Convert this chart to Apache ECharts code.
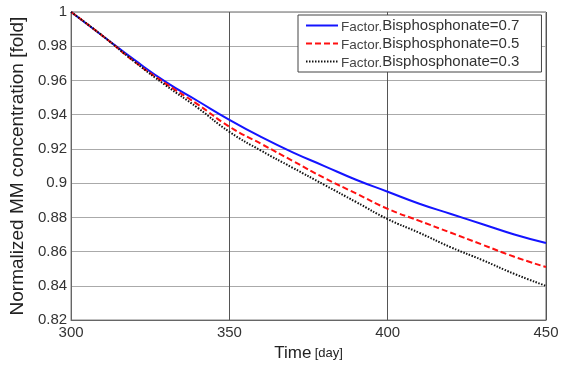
<!DOCTYPE html>
<html>
<head>
<meta charset="utf-8">
<script src="https://cdn.jsdelivr.net/npm/echarts@6/dist/echarts.min.js"></script>
<style>
  html, body { margin: 0; padding: 0; background: #fff; }
  #chart { width: 563px; height: 367px; }
</style>
</head>
<body>
<div id="chart"></div>
<script>
// values, every 10 days
const days = [300, 310, 320, 330, 340, 350, 360, 370, 380, 390, 400, 410, 420, 430, 440, 450];
const factor07 = [1, 0.986, 0.972, 0.959, 0.948, 0.937, 0.927, 0.918, 0.910, 0.902, 0.895, 0.888, 0.882, 0.876, 0.870, 0.865];
const factor05 = [1, 0.986, 0.971, 0.958, 0.946, 0.933, 0.923, 0.913, 0.903, 0.894, 0.885, 0.878, 0.871, 0.864, 0.857, 0.851];
const factor03 = [1, 0.986, 0.971, 0.957, 0.944, 0.930, 0.919, 0.909, 0.899, 0.889, 0.879, 0.871, 0.8625, 0.855, 0.847, 0.840];
const seriesNames = ['Factor.Bisphosphonate=0.7', 'Factor.Bisphosphonate=0.5', 'Factor.Bisphosphonate=0.3'];

const pairs = (ys) => days.map((d, i) => [d, ys[i]]);

const chart = echarts.init(document.getElementById('chart'));

chart.setOption({
  animation: false,
  textStyle: { fontFamily: 'Liberation Sans, Arial, sans-serif' },
  grid: {
    left: 70, right: 17, top: 12, bottom: 30,
    show: true, borderColor: '#666', borderWidth: 1
  },
  legend: {
    left: 298, top: 15,
    orient: 'vertical',
    padding: [3, 22, 2, 7],
    itemGap: 2,
    itemWidth: 32,
    itemHeight: 14,
    backgroundColor: '#fff',
    borderColor: '#444',
    borderWidth: 1,
    borderRadius: 0,
    data: seriesNames,
    itemStyle: { opacity: 0 },
    formatter: (name) => {
      const parts = name.split('.');
      return '{a|' + parts[0] + '.}{b|' + parts.slice(1).join('.') + '}';
    },
    textStyle: {
      color: '#333',
      padding: [0, 0, 0, -2],
      rich: {
        a: { fontSize: 13.5, color: '#444', padding: [3, 0, 0, 0] },
        b: { fontSize: 15, color: '#333' }
      }
    }
  },
  xAxis: {
    type: 'value',
    min: 300, max: 450, interval: 50,
    name: '{a|Time} {b|[day]}',
    nameLocation: 'middle',
    nameGap: 16,
    nameTextStyle: {
      rich: {
        a: { fontSize: 17, color: '#222' },
        b: { fontSize: 13, color: '#222' }
      }
    },
    axisLine: { lineStyle: { color: '#666' } },
    axisTick: { show: false },
    axisLabel: { color: '#333', fontSize: 15, margin: 5 },
    splitLine: { lineStyle: { color: '#555', width: 1 } }
  },
  yAxis: {
    type: 'value',
    min: 0.82, max: 1, interval: 0.02,
    name: 'Normalized MM concentration [fold]',
    nameLocation: 'middle',
    nameGap: 40,
    nameTextStyle: { fontSize: 19, color: '#222' },
    axisLine: { show: true, lineStyle: { color: '#666' } },
    axisTick: { show: false },
    axisLabel: { color: '#333', fontSize: 15, margin: 4 },
    splitLine: { lineStyle: { color: '#aaa', width: 1 } }
  },
  series: [
    {
      name: seriesNames[0], type: 'line', smooth: true, symbol: 'none',
      data: pairs(factor07),
      lineStyle: { color: '#1414ff', width: 2, type: 'solid' },
      itemStyle: { color: '#1414ff' }
    },
    {
      name: seriesNames[1], type: 'line', smooth: true, symbol: 'none',
      data: pairs(factor05),
      lineStyle: { color: '#ff1010', width: 2, type: [6, 3] },
      itemStyle: { color: '#ff1010' }
    },
    {
      name: seriesNames[2], type: 'line', smooth: true, symbol: 'none',
      data: pairs(factor03),
      lineStyle: { color: '#111', width: 2, type: [1.5, 1.5] },
      itemStyle: { color: '#111' }
    }
  ]
});
</script>
</body>
</html>
